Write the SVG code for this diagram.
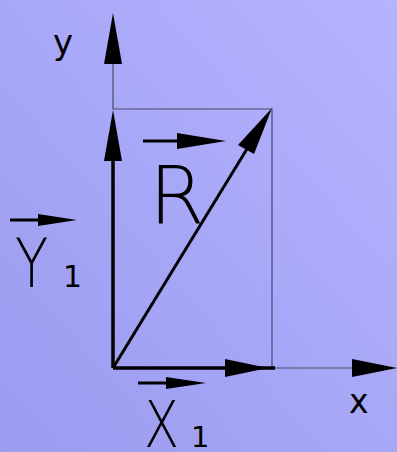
<svg xmlns="http://www.w3.org/2000/svg" width="397" height="452" viewBox="0 0 397 452">
<defs>
<linearGradient id="bg" x1="1" y1="0" x2="0" y2="1">
<stop offset="0" stop-color="#b4b4ff"/>
<stop offset="1" stop-color="#9b9bf0"/>
</linearGradient>
</defs>
<style>
.thin{stroke:#4a4a6a;stroke-width:1.2;fill:none}
.thick{stroke:#000;stroke-width:3.5;fill:none}
.vec{stroke:#000;stroke-width:3;fill:none}
.head{fill:#000;stroke:none}
.lbl{font-family:"DejaVu Sans","Liberation Sans",sans-serif;font-weight:200;fill:#000}
.sub{font-family:"DejaVu Sans","Liberation Sans",sans-serif;fill:#000}
.ax{font-family:"DejaVu Sans","Liberation Sans",sans-serif;fill:#000}
</style>
<rect width="397" height="452" fill="url(#bg)"/>
<g id="connectors">
<path class="thin" d="M113,64 V109 H272 V368 H352"/>
<polygon class="head" points="113,13 104,64 122,64"/>
<polygon class="head" points="397,368 352,359 352,377"/>
<path class="thick" d="M113,368 V158"/>
<polygon class="head" points="113,110 104,161 122,161"/>
<path class="thick" d="M113,368 H275"/>
<polygon class="head" points="268,368 225,359 225,377"/>
<path class="vec" d="M113,368 L250,144"/>
<polygon class="head" points="272,108 238,145 254,154"/>
</g>
<g id="label-y"><text class="ax" x="53" y="54" font-size="34">y</text></g>
<g id="label-x"><text class="ax" x="349" y="413" font-size="33">x</text></g>
<g id="label-R">
<path class="vec" d="M143,141 H200"/>
<polygon class="head" points="226,141 177,133 177,149"/>
<text class="lbl" x="149" y="223" font-size="80">R</text>
</g>
<g id="label-Y1">
<path class="vec" d="M10,220 H50"/>
<polygon class="head" points="77,220 38,214 38,226"/>
<text class="lbl" transform="translate(15,287) scale(0.8,1)" font-size="68">Y</text>
<text class="sub" x="63" y="287" font-size="30">1</text>
</g>
<g id="label-X1">
<path class="vec" d="M138,383 H180"/>
<polygon class="head" points="206,383 166,377 166,389"/>
<text class="lbl" transform="translate(144,447) scale(0.8,1)" font-size="64">X</text>
<text class="sub" x="191" y="447" font-size="29">1</text>
</g>
</svg>
